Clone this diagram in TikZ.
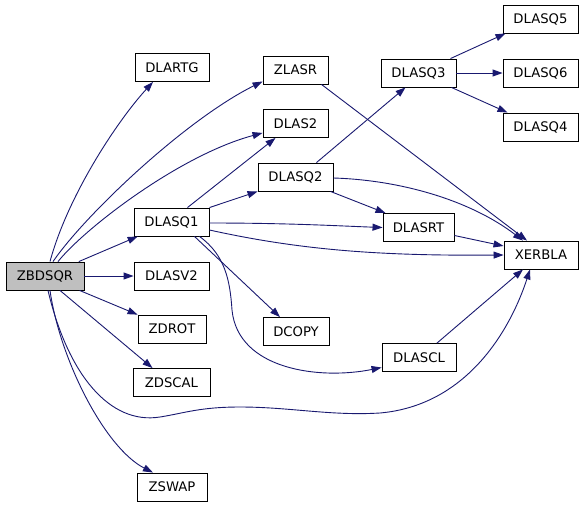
\documentclass[tikz,border=0pt]{standalone}
\usepackage{fontspec}
\setmainfont{DejaVu Sans}
\usetikzlibrary{arrows.meta,calc}
\definecolor{edgeblue}{HTML}{191970}
\definecolor{boxgray}{HTML}{BFBFBF}
\begin{document}
\begin{tikzpicture}[x=1pt,y=-1pt,
  fnbox/.style={draw=black, line width=0.9pt, fill=white, minimum height=28pt, inner sep=0pt, font=\fontsize{13.2}{16}\selectfont},
  call/.style={draw=edgeblue, line width=0.9pt, -{Triangle[length=10pt,width=7pt]}, color=edgeblue}]
\useasboundingbox (0,0) rectangle (584,507);
\fill[white] (0,0) rectangle (584,507);
% nodes
\node[fnbox, fill=boxgray, minimum width=78pt] (zb) at (45,276) {ZBDSQR};
\node[fnbox, minimum width=74pt] (dlartg) at (172,67.5) {DLARTG};
\node[fnbox, minimum width=65pt] (zlasr) at (295.5,70) {ZLASR};
\node[fnbox, minimum width=65pt] (dlas2) at (295.5,123.5) {DLAS2};
\node[fnbox, minimum width=75pt] (dlasq2) at (295.5,177) {DLASQ2};
\node[fnbox, minimum width=75pt] (dlasq1) at (171.5,222) {DLASQ1};
\node[fnbox, minimum width=75pt] (dlasv2) at (171.5,276) {DLASV2};
\node[fnbox, minimum width=68pt] (zdrot) at (172,329) {ZDROT};
\node[fnbox, minimum width=77pt] (zdscal) at (171.5,382.5) {ZDSCAL};
\node[fnbox, minimum width=70pt] (zswap) at (172,487) {ZSWAP};
\node[fnbox, minimum width=66pt] (dcopy) at (296,331.5) {DCOPY};
\node[fnbox, minimum width=75pt] (dlasq3) at (418.5,73) {DLASQ3};
\node[fnbox, minimum width=71pt] (dlasrt) at (418.5,227.5) {DLASRT};
\node[fnbox, minimum width=74pt] (dlascl) at (419,357.5) {DLASCL};
\node[fnbox, minimum width=75pt] (dlasq5) at (540.5,19) {DLASQ5};
\node[fnbox, minimum width=75pt] (dlasq6) at (540.5,73) {DLASQ6};
\node[fnbox, minimum width=75pt] (dlasq4) at (540.5,127) {DLASQ4};
\node[fnbox, minimum width=74pt] (xerbla) at (541,255) {XERBLA};
% edges from ZBDSQR
\draw[call] ($(zb.north)+(5,0)$) .. controls (68,195) and (118,120) .. ($(dlartg.south)+(-19,0)$);
\draw[call] ($(zb.north)+(8,0)$) .. controls (85,215) and (185,120) .. ($(zlasr.south west)+(0,-3)$);
\draw[call] ($(zb.north)+(13,0)$) .. controls (85,228) and (180,155) .. ($(dlas2.south west)+(0,-5)$);
\draw[call] (zb) -- (dlasq1);
\draw[call] (zb) -- (dlasv2);
\draw[call] (zb) -- (zdrot);
\draw[call] ($(zb.south)+(15,0)$) -- ($(zdscal.north)+(-19,0)$);
\draw[call] ($(zb.south)+(5,0)$) .. controls (60,360) and (105,448) .. ($(zswap.north)+(-19,0)$);
\draw[call] ($(zb.south)+(3,0)$) .. controls (68,375) and (110,425) .. (160,417)
  .. controls (185,413) and (200,407) .. (240,407)
  .. controls (290,407) and (330,416) .. (380,413)
  .. controls (470,405) and (512,325) .. ($(xerbla.south)+(-11,0)$);
% edges from DLASQ1
\draw[call] ($(dlasq1.north)+(16,0)$) -- ($(dlas2.south)+(-20,0)$);
\draw[call] (dlasq1.north east) -- (dlasq2.south west);
\draw[call] ($(dlasq1.east)+(0,1)$) .. controls (290,223) and (340,226) .. (dlasrt.west);
\draw[call] ($(dlasq1.east)+(0,8)$) .. controls (300,250) and (380,256) .. (xerbla.west);
\draw[call] ($(dlasq1.south)+(23,0)$) -- ($(dcopy.north)+(-16,0)$);
\draw[call] ($(dlasq1.south)+(28,0)$) .. controls (225,255) and (230,280) .. (232,310)
  .. controls (238,370) and (320,380) .. ($(dlascl.west)+(0,10)$);
% edges from DLASQ2
\draw[call] ($(dlasq2.north)+(21,0)$) -- ($(dlasq3.south)+(-13,0)$);
\draw[call] ($(dlasq2.south)+(35,0)$) -- ($(dlasrt.north)+(-33,0)$);
\draw[call] ($(dlasq2.east)+(0,1)$) .. controls (400,180) and (470,200) .. ($(xerbla.north)+(-18,0)$);
% others
\draw[call] ($(zlasr.south)+(26,0)$) -- ($(xerbla.north)+(-14,0)$);
\draw[call] ($(dlasrt.east)+(0,8)$) -- ($(xerbla.west)+(0,-9)$);
\draw[call] ($(dlascl.north)+(18,0)$) -- ($(xerbla.south)+(-18,0)$);
\draw[call] ($(dlasq3.north)+(32,0)$) -- ($(dlasq5.south)+(-35,0)$);
\draw[call] (dlasq3) -- (dlasq6);
\draw[call] ($(dlasq3.south)+(33,0)$) -- ($(dlasq4.north)+(-33,0)$);
\end{tikzpicture}
\end{document}
